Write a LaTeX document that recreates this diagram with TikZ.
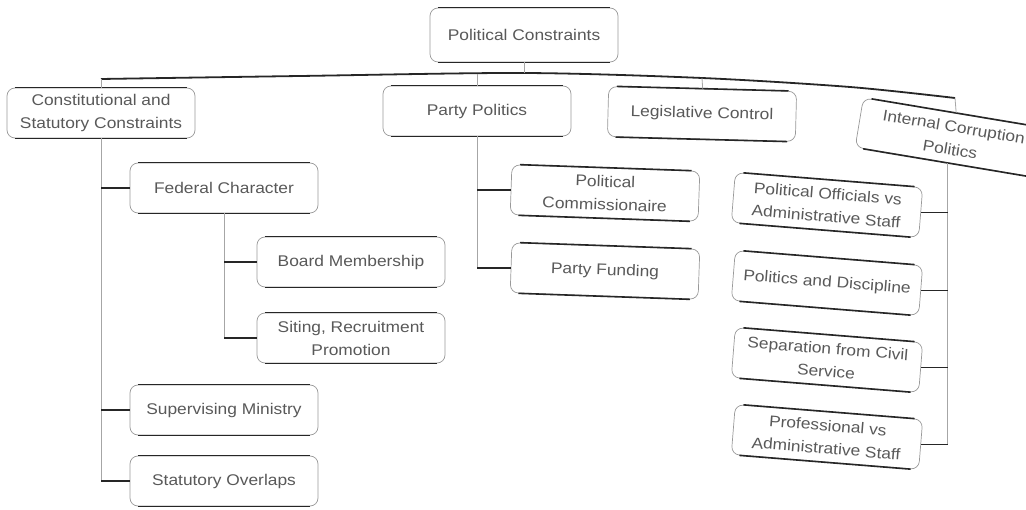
\documentclass[tikz,border=0pt]{standalone}
\usepackage{fontspec}
\setmainfont[FakeStretch=1.12]{Liberation Sans}
\usetikzlibrary{calc}
\newcommand{\tbedge}[1]{%
  \draw[boxedge] ($(#1.north west)!0.045!(#1.north east)$) -- ($(#1.north west)!0.955!(#1.north east)$);
  \draw[boxedge] ($(#1.south west)!0.045!(#1.south east)$) -- ($(#1.south west)!0.955!(#1.south east)$);}
\begin{document}
\begin{tikzpicture}[x=1pt,y=-1pt,
  box/.style={draw=black!40, fill=white, line width=0.7pt, rounded corners=8pt,
    minimum width=188pt, minimum height=50pt, align=center, inner sep=2pt,
    text=black!65, font=\fontsize{15.5}{23}\selectfont},
  hl/.style={draw=black!85, line width=1.8pt},
  vl/.style={draw=black!35, line width=0.8pt},
  boxedge/.style={draw=black!85, line width=1.6pt}]
\useasboundingbox (0,0) rectangle (1026,510);
\clip (0,0) rectangle (1026,510);

% bus coordinates
\coordinate (b1) at (101,79);
\coordinate (b2) at (300,76);
\coordinate (b3) at (524,73);
\coordinate (b4) at (702,78);
\coordinate (b5) at (850,87);
\coordinate (b6) at (955,98);
\coordinate (bpp) at (477,74);

% nodes
\node[box, minimum height=54pt] (pc) at (524,35) {Political Constraints};
\node[box] (csc) at (101,113) {Constitutional and\\Statutory Constraints};
\node[box] (pp) at (477,111) {Party Politics};
\node[box, rotate=-1.5] (lc) at (702,114) {Legislative Control};
\node[box, rotate=-9.5] (ic) at (952,138) {Internal Corruption\\Politics};

\node[box] (fc) at (224,188) {Federal Character};
\node[box] (bm) at (351,262) {Board Membership};
\node[box] (srp) at (351,338) {Siting, Recruitment\\Promotion};
\node[box] (sm) at (224,410) {Supervising Ministry};
\node[box] (so) at (224,481) {Statutory Overlaps};

\node[box, rotate=-2] (pcm) at (605,193) {Political\\Commissionaire};
\node[box, rotate=-2] (pf) at (605,271) {Party Funding};

\node[box, rotate=-4.6] (po) at (827,205) {Political Officials vs\\Administrative Staff};
\node[box, rotate=-4.6] (pd) at (827,283) {Politics and Discipline};
\node[box, rotate=-4.6] (sc) at (827,360) {Separation from Civil\\Service};
\node[box, rotate=-4.6] (pvs) at (827,437) {Professional vs\\Administrative Staff};

% thick top/bottom edges
\foreach \n in {pc,csc,pp,lc,ic,fc,bm,srp,sm,so,pcm,pf,po,pd,sc,pvs} {\tbedge{\n}}

% bus and stubs
\draw[hl] plot[smooth, tension=0.5] coordinates {(b1) (b2) (b3) (b4) (b5) (b6)};
\draw[vl] (pc.south) -- (b3);
\draw[vl] (b1) -- (csc.north);
\draw[vl] (bpp) -- (pp.north);
\draw[vl] (b4) -- (lc.north);
\draw[vl] (b6) -- (ic.north);

% left tree
\draw[vl] (csc.south) -- (csc.south |- so.west);
\foreach \n in {fc,sm,so} {\draw[hl] (csc.south |- \n.west) -- (\n.west);}
\draw[vl] (fc.south) -- (fc.south |- srp.west);
\foreach \n in {bm,srp} {\draw[hl] (fc.south |- \n.west) -- (\n.west);}

% party politics tree
\draw[vl] (pp.south) -- (pp.south |- pf.west);
\foreach \n in {pcm,pf} {\draw[hl] (pp.south |- \n.west) -- (\n.west);}

% internal corruption tree
\draw[vl] (ic.south) -- (ic.south |- pvs.east);
\foreach \n in {po,pd,sc,pvs} {\draw[hl] (\n.east) -- (\n.east -| ic.south);}
\end{tikzpicture}
\end{document}
